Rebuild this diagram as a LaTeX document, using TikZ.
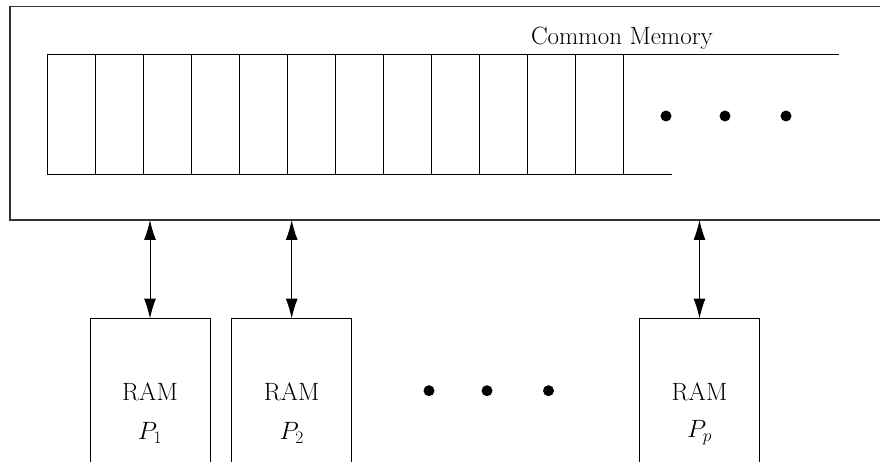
\documentclass[tikz,border=0pt]{standalone}
\usepackage{fix-cm}
\usetikzlibrary{arrows.meta}
\begin{document}
\begin{tikzpicture}[x=1pt,y=-1pt,every node/.style={outer sep=0pt},
  line/.style={draw=black,line width=1pt},
  cellbox/.style={line,rectangle,minimum width=48pt,minimum height=120pt,inner sep=0pt,anchor=north west},
  rambox/.style={line,rectangle,minimum width=120pt,minimum height=170pt,inner sep=0pt,anchor=north west},
  lbl/.style={inner sep=0pt,font=\fontsize{25}{30}\selectfont},
  dotmark/.style={circle,fill=black,minimum size=11pt,inner sep=0pt},
  biarrow/.style={line,{Latex[length=20pt,width=12pt]}-{Latex[length=20pt,width=12pt]}}]
\useasboundingbox (0,0) rectangle (880,462);
% outer common memory box (open at right)
\node[draw=black!80,line width=1.3pt,rectangle,minimum width=880pt,minimum height=213.5pt,inner sep=0pt,anchor=north west] (mem) at (10,6.5) {};
\node[lbl,anchor=base west] (memlbl) at (531,45) {Common Memory};
% memory cells
\foreach \k in {0,...,11}{
  \node[cellbox] (cell\k) at ({47.7+48*\k},54.5) {};
}
\coordinate (topend) at (839,54.5);
\coordinate (botend) at (672,174.5);
\draw[line] (cell11.north east) -- (topend);
\draw[line] (cell11.south east) -- (botend);
\node[dotmark] (md1) at (666,116) {};
\node[dotmark] (md2) at (725,116) {};
\node[dotmark] (md3) at (786,116) {};
% processors
\node[rambox] (ram1) at (90,318.5) {};
\node[rambox] (ram2) at (231.7,318.5) {};
\node[rambox] (ramp) at (639.5,318.5) {};
\node[lbl] (r1) at (150,392) {RAM};
\node[lbl] (p1) at (150,433) {$P_1$};
\node[lbl] (r2) at (291.7,392) {RAM};
\node[lbl] (p2) at (291.7,433) {$P_2$};
\node[lbl] (rp) at (699.5,392) {RAM};
\node[lbl] (pp) at (699.5,433) {$P_p$};
\node[dotmark] (bd1) at (429,390.7) {};
\node[dotmark] (bd2) at (487,390.7) {};
\node[dotmark] (bd3) at (548.5,390.7) {};
% connectors
\draw[biarrow] (ram1.north |- mem.south) -- (ram1.north);
\draw[biarrow] (ram2.north |- mem.south) -- (ram2.north);
\draw[biarrow] (ramp.north |- mem.south) -- (ramp.north);
\end{tikzpicture}
\end{document}
